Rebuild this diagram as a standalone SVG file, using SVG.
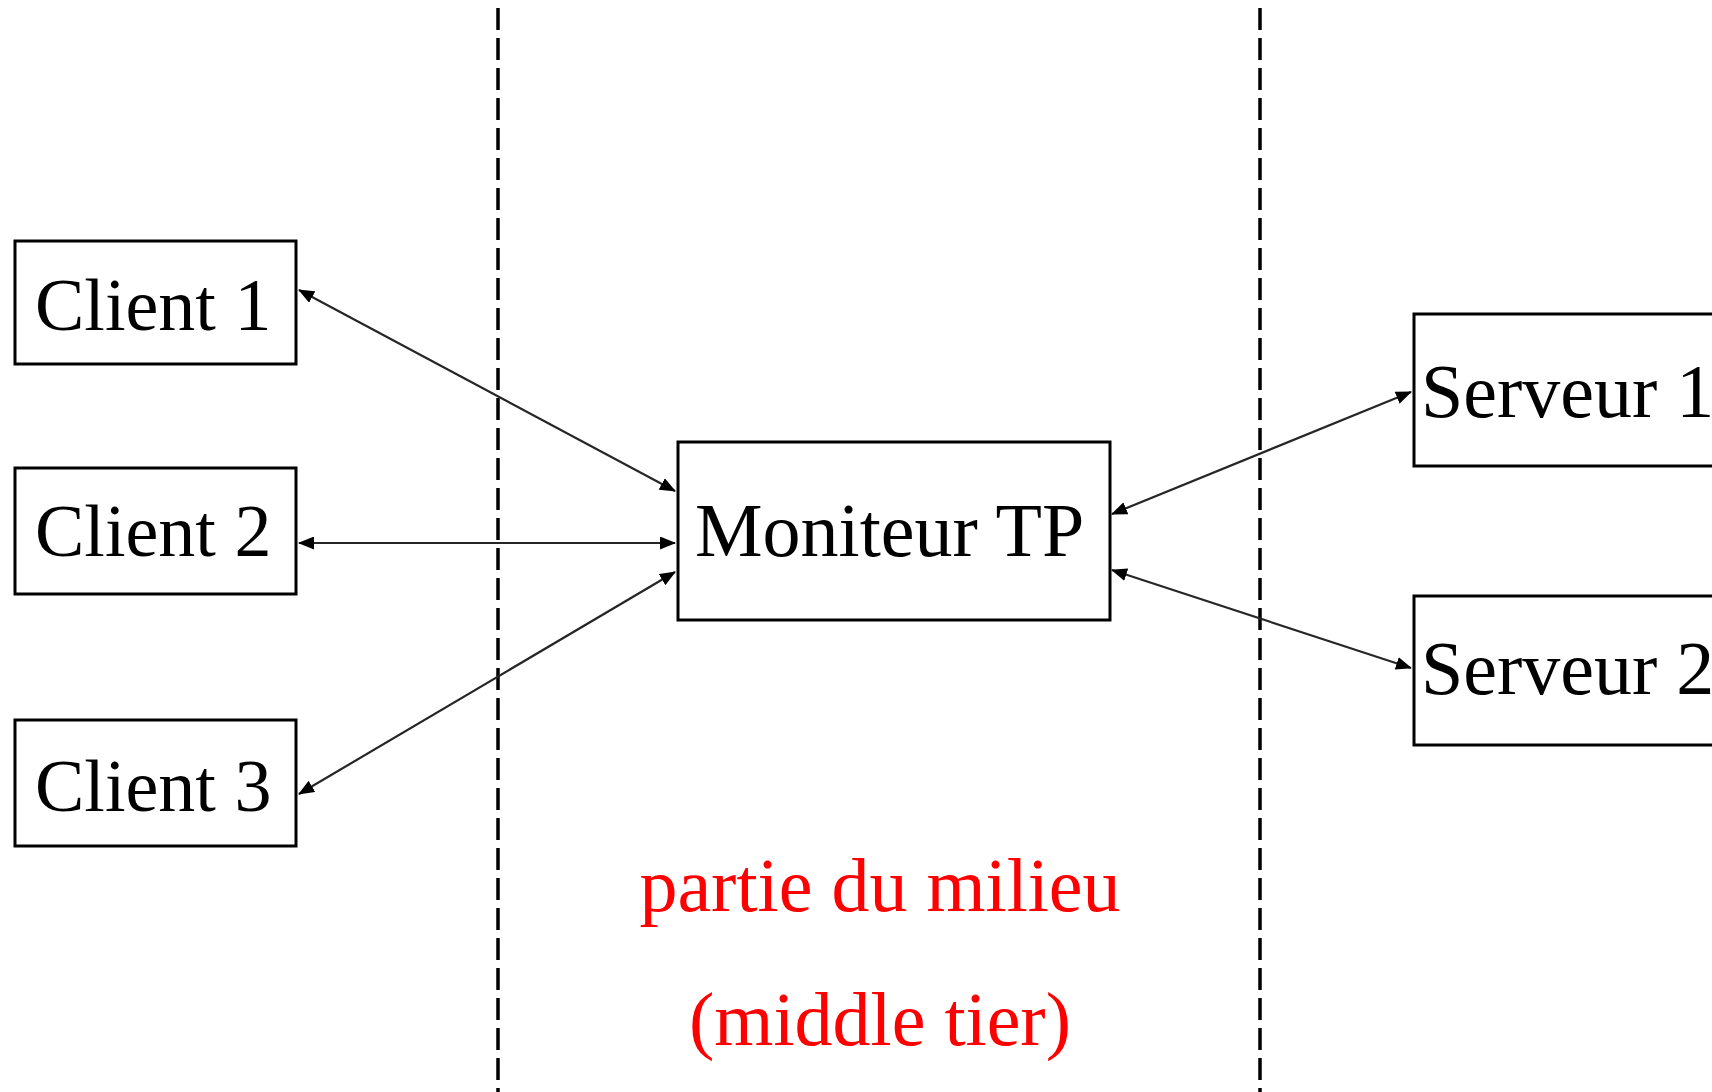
<svg xmlns="http://www.w3.org/2000/svg" width="1712" height="1092" viewBox="0 0 1712 1092">
  <style>
    .box { fill: #ffffff; stroke: #000000; stroke-width: 3; }
    .lbl { font-family: "Liberation Serif", "Times New Roman", serif; font-size: 76px; fill: #000000; }
    .cl { font-size: 74px; }
    .note { font-family: "Liberation Serif", "Times New Roman", serif; font-size: 76px; fill: #ff0000; text-anchor: middle; }
    .tier { stroke: #000000; stroke-width: 3.5; stroke-dasharray: 22 8; fill: none; }
    .link { stroke: #262626; stroke-width: 2.2; fill: none; marker-start: url(#head); marker-end: url(#head); }
  </style>
  <defs>
    <marker id="head" viewBox="0 0 16 13" refX="15" refY="6.5" markerWidth="16" markerHeight="13" markerUnits="userSpaceOnUse" orient="auto-start-reverse">
      <path d="M0,0 L16,6.5 L0,13 Z" fill="#000000"/>
    </marker>
  </defs>
  <rect width="1712" height="1092" fill="#ffffff"/>

  <!-- tier boundaries -->
  <g id="tiers">
    <line class="tier" x1="498" y1="8" x2="498" y2="1092"/>
    <line class="tier" x1="1260" y1="8" x2="1260" y2="1092"/>
  </g>

  <!-- connectors -->
  <g id="connectors">
    <line class="link" x1="299" y1="290" x2="675" y2="491"/>
    <line class="link" x1="299" y1="543" x2="675" y2="543"/>
    <line class="link" x1="299" y1="794" x2="675" y2="572"/>
    <line class="link" x1="1112" y1="514" x2="1411" y2="392"/>
    <line class="link" x1="1112" y1="570" x2="1411" y2="668"/>
  </g>

  <g id="client1">
    <rect class="box" x="15" y="241" width="281" height="123"/>
    <text class="lbl cl" x="35" y="330">Client 1</text>
  </g>
  <g id="client2">
    <rect class="box" x="15" y="468" width="281" height="126"/>
    <text class="lbl cl" x="35" y="556">Client 2</text>
  </g>
  <g id="client3">
    <rect class="box" x="15" y="720" width="281" height="126"/>
    <text class="lbl cl" x="35" y="811">Client 3</text>
  </g>
  <g id="moniteur">
    <rect class="box" x="678" y="442" width="432" height="178"/>
    <text class="lbl" x="695" y="556">Moniteur TP</text>
  </g>
  <g id="serveur1">
    <rect class="box" x="1414" y="314" width="320" height="152"/>
    <text class="lbl" x="1421" y="417">Serveur 1</text>
  </g>
  <g id="serveur2">
    <rect class="box" x="1414" y="596" width="320" height="149"/>
    <text class="lbl" x="1421" y="694">Serveur 2</text>
  </g>

  <g id="middle-tier-label">
    <text class="note" x="880" y="911">partie du milieu</text>
    <text class="note" x="880" y="1045">(middle tier)</text>
  </g>
</svg>
